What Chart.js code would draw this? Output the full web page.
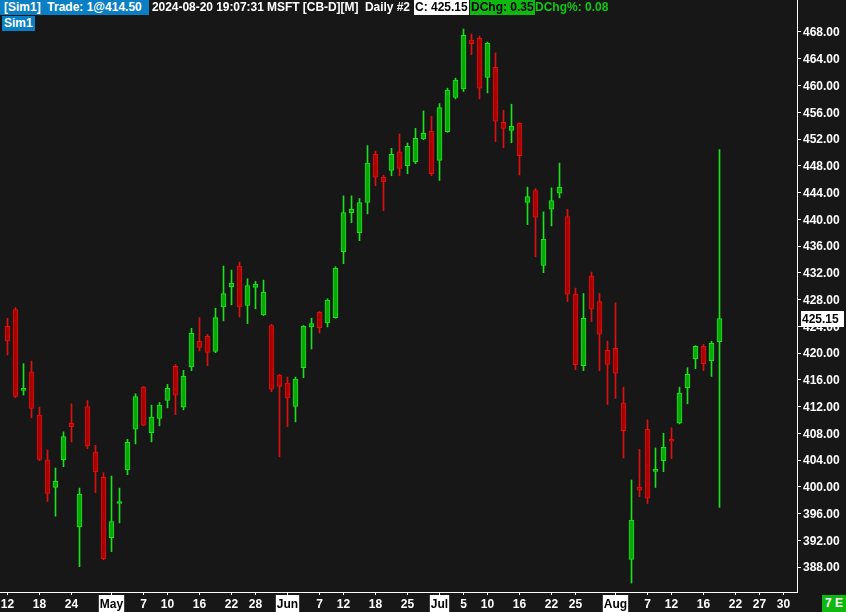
<!DOCTYPE html>
<html lang="en">
<head>
<meta charset="UTF-8">
<title>MSFT Daily</title>
<script src="https://cdn.jsdelivr.net/npm/chart.js"></script>
<style>
    body {
        margin: 0;
        background: #171717;
        font-family: 'Liberation Sans', Arial, sans-serif;
    }
    #wrap {
        position: relative;
        width: 846px;
        height: 612px;
        overflow: hidden;
    }
    #chart {
        position: absolute;
        left: 0;
        top: 0;
    }
    .hd {
        position: absolute;
        height: 15px;
        line-height: 15px;
        font-size: 12px;
        font-weight: bold;
        white-space: pre;
        color: #fff;
    }
</style>
</head>
<body>
<div id="wrap">
    <canvas id="chart" width="846" height="612"></canvas>
    <div class="hd" style="left:0;top:0;width:145px;padding-left:4px;background:#0b7fc4;">[Sim1]  Trade: 1@414.50</div>
    <div class="hd" style="left:152px;top:0;letter-spacing:-0.05px;">2024-08-20 19:07:31 MSFT [CB-D][M]  Daily #2</div>
    <div class="hd" style="left:414px;top:0;padding:0 1px;background:#fff;color:#000;">C: 425.15</div>
    <div class="hd" style="left:470px;top:0;padding:0 1px;background:#0fb80f;color:#000;">DChg: 0.35</div>
    <div class="hd" style="left:535px;top:0;color:#12c812;">DChg%: 0.08</div>
    <div class="hd" style="left:2px;top:16px;padding:0 2px;background:#0b7fc4;">Sim1</div>
    <div class="hd" style="left:822px;top:595px;width:24px;height:17px;line-height:17px;text-align:center;background:#0fb80f;">7 E</div>
</div>

<script>
    // daily bars, Apr 12 .. Aug 20 2024 (index = trading day)
    const opens = [
        424.0, 426.5, 414.4, 417.2, 410.7, 404.0, 399.9, 404.05, 409.5, 394.0,
        412.0, 405.2, 401.4, 392.4, 397.5, 402.5, 408.6, 414.9, 408.1, 410.2,
        412.9, 418.0, 411.9, 417.9, 421.75, 422.5, 420.25, 426.9, 429.9, 433.0,
        427.1, 429.8, 425.7, 424.1, 416.7, 415.5, 412.0, 417.8, 423.9, 426.1,
        424.5, 425.3, 435.15, 441.0, 438.0, 442.5, 449.7, 446.3, 447.3, 450.1,
        448.0, 448.6, 452.0, 453.15, 448.8, 453.1, 458.2, 459.5, 466.8, 467.1,
        461.2, 462.7, 454.5, 453.3, 454.35, 442.5, 444.3, 433.1, 441.5, 443.9,
        440.4, 428.8, 418.1, 431.5, 427.7, 420.4, 420.7, 412.5, 389.15, 399.9,
        408.6, 402.3, 403.9, 406.9, 409.5, 414.8, 419.15, 421.0, 418.85, 421.7
    ];
    const highs = [
        425.2, 426.8, 418.4, 418.8, 411.9, 405.5, 402.8, 408.2, 412.4, 399.8,
        412.9, 406.2, 402.1, 401.6, 399.8, 407.1, 413.9, 415.0, 412.2, 412.6,
        415.3, 418.3, 417.4, 423.7, 425.3, 422.8, 426.7, 433.0, 432.4, 433.6,
        431.1, 430.7, 430.9, 424.3, 416.8, 416.4, 416.4, 424.1, 425.2, 426.2,
        428.1, 432.9, 443.5, 443.5, 443.1, 451.0, 450.2, 446.6, 450.6, 452.75,
        451.4, 453.6, 456.2, 455.4, 457.3, 459.6, 461.1, 468.45, 467.7, 467.4,
        466.5, 464.9, 456.3, 457.2, 454.4, 444.8, 444.6, 441.1, 444.7, 448.4,
        441.5, 429.7, 428.9, 432.1, 428.9, 421.8, 427.5, 414.9, 401.0, 405.6,
        410.0, 405.8, 408.0, 408.8, 414.9, 417.8, 421.1, 421.3, 421.75, 450.4
    ];
    const lows = [
        419.7, 413.3, 413.7, 410.3, 403.9, 397.8, 395.6, 403.0, 406.7, 388.05,
        405.7, 399.1, 389.1, 390.3, 394.6, 401.8, 406.4, 409.1, 406.7, 409.1,
        411.8, 410.8, 411.5, 417.35, 420.3, 418.1, 420.05, 424.8, 427.2, 425.4,
        424.4, 426.6, 425.6, 414.2, 404.5, 409.0, 409.7, 416.3, 420.6, 423.0,
        423.9, 425.2, 433.35, 439.5, 436.8, 440.8, 445.0, 441.3, 446.5, 446.5,
        446.8, 448.3, 451.9, 446.5, 445.8, 453.0, 458.0, 459.1, 464.6, 458.0,
        458.9, 451.6, 450.7, 451.45, 446.6, 439.2, 434.4, 432.0, 439.0, 443.2,
        427.7, 417.5, 417.35, 424.7, 417.35, 412.3, 413.2, 404.3, 385.6, 398.5,
        397.5, 399.9, 402.25, 404.2, 409.4, 412.4, 417.65, 417.35, 416.5, 396.9
    ];
    const closes = [
        421.8, 413.5, 414.6, 411.7, 404.1, 399.0, 400.8, 407.5, 409.0, 398.9,
        406.1, 402.2, 389.2, 394.8, 397.7, 406.65, 413.5, 409.2, 410.4, 412.2,
        414.7, 413.7, 416.5, 422.95, 420.85, 420.1, 425.3, 428.9, 430.4, 426.9,
        430.1, 430.3, 429.1, 414.6, 415.0, 413.3, 416.1, 424.0, 424.4, 423.8,
        427.9, 432.7, 441.0, 441.5, 442.5, 448.4, 446.3, 445.6, 449.7, 447.6,
        450.9, 452.1, 452.85, 446.8, 456.7, 459.3, 460.8, 467.5, 466.25, 459.6,
        466.3, 454.65, 453.6, 453.9, 449.5, 443.4, 440.3, 437.0, 442.8, 444.8,
        428.8, 418.25, 425.2, 426.6, 422.8, 418.3, 417.0, 408.4, 395.0, 399.5,
        398.3, 402.6, 405.9, 406.8, 414.0, 416.8, 421.0, 418.4, 421.45, 425.15
    ];

    // x-axis labels (trading-day index -> label), slots run on to Aug 30
    const tickIdx = [0, 4, 8, 13, 17, 20, 24, 28, 31, 35, 39, 42, 46, 50, 54, 57, 60, 64, 68, 71, 76, 80, 83, 87, 91, 94, 97];
    const tickLabels = ['12', '18', '24', 'May', '7', '10', '16', '22', '28', 'Jun', '7', '12', '18', '25',
                        'Jul', '5', '10', '16', '22', '25', 'Aug', '7', '12', '16', '22', '27', '30'];
    const monthLabels = ['May', 'Jun', 'Jul', 'Aug'];
    const priceTicks = [388, 392, 396, 400, 404, 408, 412, 416, 420, 424, 428, 432, 436, 440, 444, 448, 452, 456, 460, 464, 468];

    const UP_LINE = '#1ee01e', UP_FILL = '#08a808';
    const DN_LINE = '#e01010', DN_FILL = '#a80000';
    const FONT = { family: "'Liberation Sans', Arial, sans-serif", size: 12, weight: 'bold' };

    const isUp = i => closes[i] >= opens[i];
    const lineColors = opens.map((o, i) => isUp(i) ? UP_LINE : DN_LINE);
    const fillColors = opens.map((o, i) => isUp(i) ? UP_FILL : DN_FILL);

    const bodies = opens.map((o, i) => ({ x: i, y: [o, closes[i]] }));
    const wicks = opens.map((o, i) => ({ x: i, y: [lows[i], highs[i]] }));

    // white box with the last close on the price axis
    const lastPrice = {
        id: 'lastPrice',
        afterDraw(chart) {
            const last = closes[closes.length - 1];
            const y = Math.round(chart.scales.y.getPixelForValue(last));
            const x = chart.chartArea.right + 4;
            const ctx = chart.ctx;
            ctx.save();
            ctx.fillStyle = '#fff';
            ctx.fillRect(x, y - 8, 43, 16);
            ctx.fillStyle = '#000';
            ctx.font = "bold 12px 'Liberation Sans', Arial, sans-serif";
            ctx.textBaseline = 'middle';
            ctx.fillText(last.toFixed(2), x + 1, y + 1);
            ctx.restore();
        }
    };

    new Chart(document.getElementById('chart').getContext('2d'), {
        type: 'bar',
        data: {
            datasets: [{
                label: 'body',
                data: bodies,
                backgroundColor: fillColors,
                borderColor: lineColors,
                borderWidth: 1,
                borderSkipped: false,
                barThickness: 5,
                minBarLength: 2,
                grouped: false,
                order: 0
            }, {
                label: 'wick',
                data: wicks,
                backgroundColor: lineColors,
                borderWidth: 0,
                barThickness: 1,
                grouped: false,
                order: 1
            }]
        },
        options: {
            responsive: false,
            devicePixelRatio: 1,
            animation: false,
            layout: { padding: 0 },
            plugins: {
                legend: { display: false },
                tooltip: { enabled: false }
            },
            scales: {
                x: {
                    type: 'linear',
                    min: -0.9375,
                    max: 98.6875,
                    offset: false,
                    grid: { offset: false, drawOnChartArea: false, drawTicks: true, tickLength: 3, color: '#fff' },
                    border: { display: true, color: '#fff', width: 1 },
                    afterBuildTicks: s => { s.ticks = tickIdx.map(v => ({ value: v })); },
                    afterFit: s => { s.height = 20; s.paddingLeft = 0; s.paddingRight = 0; },
                    ticks: {
                        autoSkip: false,
                        maxRotation: 0,
                        padding: 2,
                        font: FONT,
                        color: ctx => monthLabels.includes(ctx.tick && ctx.tick.label) ? '#000' : '#fff',
                        showLabelBackdrop: ctx => monthLabels.includes(ctx.tick && ctx.tick.label),
                        backdropColor: '#fff',
                        backdropPadding: { left: 1, right: 1, top: 2, bottom: 2 },
                        callback: v => tickLabels[tickIdx.indexOf(v)]
                    }
                },
                y: {
                    type: 'linear',
                    position: 'right',
                    min: 384.262,
                    max: 472.785,
                    grid: { drawOnChartArea: false, drawTicks: true, tickLength: 4, color: '#fff' },
                    border: { display: true, color: '#fff', width: 1 },
                    afterBuildTicks: s => { s.ticks = priceTicks.map(v => ({ value: v })); },
                    afterFit: s => { s.width = 49; s.paddingTop = 0; s.paddingBottom = 0; },
                    ticks: {
                        padding: 2,
                        labelOffset: 1,
                        font: FONT,
                        color: '#fff',
                        callback: v => v.toFixed(2)
                    }
                }
            }
        },
        plugins: [lastPrice]
    });
</script>
</body>
</html>
